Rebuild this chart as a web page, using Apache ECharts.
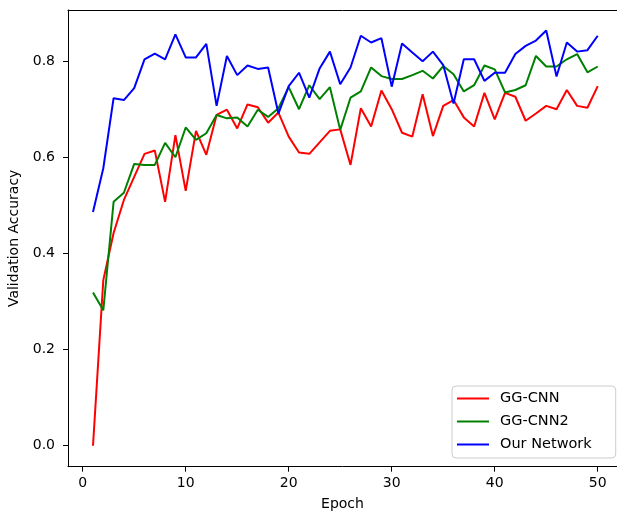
<!DOCTYPE html>
<html>
<head>
<meta charset="utf-8">
<script src="https://cdn.jsdelivr.net/npm/echarts@6/dist/echarts.min.js"></script>
<style>
  html, body { margin: 0; padding: 0; background: #fff; }
  #chart { width: 617px; height: 512px; }
</style>
</head>
<body>
<div id="chart"></div>
<script>
// Validation accuracy per training epoch for three grasp networks
const epochs = Array.from({ length: 50 }, (_, i) => i + 1);

const ggcnn = [
  0.000, 0.345, 0.443, 0.512, 0.560, 0.608, 0.615, 0.508, 0.647, 0.531,
  0.656, 0.606, 0.689, 0.700, 0.661, 0.711, 0.705, 0.673, 0.694, 0.644,
  0.611, 0.608, 0.632, 0.656, 0.659, 0.585, 0.703, 0.665, 0.740, 0.701,
  0.652, 0.644, 0.732, 0.645, 0.708, 0.720, 0.684, 0.665, 0.735, 0.680,
  0.735, 0.727, 0.677, 0.692, 0.708, 0.701, 0.741, 0.708, 0.704, 0.749
];

const ggcnn2 = [
  0.319, 0.282, 0.508, 0.527, 0.587, 0.585, 0.585, 0.631, 0.601, 0.663,
  0.637, 0.651, 0.689, 0.682, 0.684, 0.665, 0.700, 0.685, 0.703, 0.747,
  0.701, 0.751, 0.722, 0.747, 0.658, 0.725, 0.738, 0.788, 0.770, 0.764,
  0.764, 0.772, 0.781, 0.765, 0.791, 0.774, 0.738, 0.751, 0.792, 0.784,
  0.736, 0.741, 0.751, 0.812, 0.790, 0.790, 0.805, 0.816, 0.778, 0.790
];

const ourNetwork = [
  0.487, 0.578, 0.724, 0.720, 0.745, 0.805, 0.817, 0.805, 0.857, 0.809,
  0.809, 0.837, 0.708, 0.812, 0.772, 0.792, 0.785, 0.788, 0.692, 0.749,
  0.777, 0.725, 0.786, 0.821, 0.753, 0.788, 0.854, 0.840, 0.849, 0.748,
  0.838, 0.819, 0.801, 0.821, 0.793, 0.713, 0.805, 0.805, 0.760, 0.777,
  0.777, 0.816, 0.833, 0.844, 0.865, 0.769, 0.840, 0.821, 0.824, 0.854
];

const xTicks = [0, 10, 20, 30, 40, 50];
const yTicks = [0, 0.2, 0.4, 0.6, 0.8];

const seriesDefs = [
  { name: 'GG-CNN', data: ggcnn, color: '#ff0000' },
  { name: 'GG-CNN2', data: ggcnn2, color: '#008000' },
  { name: 'Our Network', data: ourNetwork, color: '#0000ff' }
];

const font = 'DejaVu Sans';
const chart = echarts.init(document.getElementById('chart'), null, { renderer: 'canvas' });

// x range runs past the right edge of the canvas, so only the left,
// bottom and top spines are visible
const xMin = -1.427;
const xMax = 51.87;

chart.setOption({
  animation: false,
  backgroundColor: '#ffffff',
  textStyle: { fontFamily: font },
  grid: {
    left: 68, top: 10, right: 0, height: 456.7,
    show: false,
    containLabel: false,
    outerBoundsMode: 'none'
  },
  xAxis: [
    {
      type: 'value',
      min: xMin, max: xMax,
      name: 'Epoch', nameLocation: 'middle', nameGap: 31,
      nameTextStyle: { fontFamily: font, fontSize: 14, color: '#000' },
      axisLine: { show: true, onZero: false, lineStyle: { color: '#000', width: 1 } },
      axisTick: { show: true, length: 5, inside: false, customValues: xTicks, lineStyle: { color: '#000' } },
      axisLabel: { customValues: xTicks, fontFamily: font, fontSize: 14, color: '#000', margin: 10 },
      splitLine: { show: false }
    },
    {
      // top spine
      type: 'value',
      position: 'top',
      min: xMin, max: xMax,
      axisLine: { show: true, onZero: false, lineStyle: { color: '#000', width: 1 } },
      axisTick: { show: false },
      axisLabel: { show: false },
      splitLine: { show: false }
    }
  ],
  yAxis: {
    type: 'value',
    min: -0.0437, max: 0.9077,
    name: 'Validation Accuracy', nameLocation: 'middle', nameGap: 46, nameRotate: 90,
    nameTextStyle: { fontFamily: font, fontSize: 14, color: '#000' },
    axisLine: { show: true, onZero: false, lineStyle: { color: '#000', width: 1 } },
    axisTick: { show: true, length: 5, inside: false, customValues: yTicks, lineStyle: { color: '#000' } },
    axisLabel: {
      customValues: yTicks, fontFamily: font, fontSize: 14, color: '#000', margin: 13,
      formatter: v => v.toFixed(1)
    },
    splitLine: { show: false }
  },
  legend: {
    orient: 'vertical',
    left: 452, top: 386,
    padding: [5, 24, 6, 5],
    itemGap: 8,
    itemWidth: 32, itemHeight: 2,
    icon: 'rect',
    borderColor: '#cccccc', borderWidth: 1, borderRadius: 4,
    backgroundColor: 'rgba(255,255,255,0.8)',
    textStyle: { fontFamily: font, fontSize: 14.5, color: '#000', lineHeight: 15, padding: [0, 0, 0, 6] },
    data: seriesDefs.map(s => s.name)
  },
  series: seriesDefs.map(s => ({
    name: s.name,
    type: 'line',
    xAxisIndex: 0,
    data: epochs.map((e, i) => [e, s.data[i]]),
    showSymbol: false,
    symbol: 'none',
    color: s.color,
    lineStyle: { color: s.color, width: 2 },
    clip: true
  }))
});
</script>
</body>
</html>
